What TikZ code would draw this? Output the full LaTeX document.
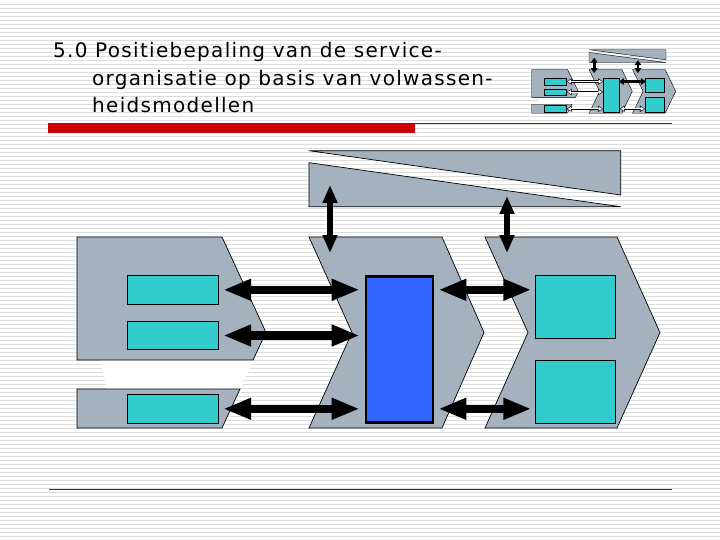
\documentclass[tikz,border=0pt]{standalone}
\usepackage{fontspec}
\newfontfamily\slidefont[LetterSpace=6.5]{DejaVu Sans}
\usetikzlibrary{arrows.meta,calc}

\definecolor{slate}{RGB}{164,177,191}
\definecolor{tealbox}{RGB}{51,204,204}
\definecolor{bluebox}{RGB}{51,102,255}
\definecolor{stripegray}{RGB}{221,221,221}
\definecolor{barred}{RGB}{204,0,0}
\definecolor{rulered}{RGB}{130,20,20}

\tikzset{
  chev/.style={draw=black, fill=slate, line width=0.7pt},
  cbox/.style={draw=black, fill=tealbox, line width=0.7pt, inner sep=0pt},
  mbox/.style={draw=black, line width=2.6pt, inner sep=0pt},
  bigarrow/.style={line width=8.5pt,
    {Triangle[length=28pt,width=20pt]}-{Triangle[length=28pt,width=20pt]}},
  vertarrow/.style={line width=6.5pt,
    {Triangle[length=18pt,width=14pt]}-{Triangle[length=18pt,width=14pt]}},
  minisolid/.style={line width=2.8pt,
    {Triangle[length=5pt,width=6.5pt]}-{Triangle[length=5pt,width=6.5pt]}},
  hollowout/.style={line width=2.4pt,
    {Triangle[length=5pt,width=6pt]}-{Triangle[length=5pt,width=6pt]}},
  hollowin/.style={white, line width=0.9pt, shorten <=0.9pt, shorten >=0.9pt,
    {Triangle[length=3.4pt,width=3.6pt]}-{Triangle[length=3.4pt,width=3.6pt]}},
  titletext/.style={font=\slidefont\fontsize{20}{23}\selectfont,
    anchor=base west, inner sep=0pt},
}

% shapes and boxes of the value chain, #1 = name prefix, #2 = middle box colour
\newcommand\valuechain[2]{%
  % top bar with wedge
  \draw[chev] (309,150.7) -- (620.7,150.7) -- (620.7,195) -- cycle;
  \draw[chev] (309,162.7) -- (620.7,206.7) -- (309,206.7) -- cycle;
  % gap in first chevron
  \fill[white] (100,360) -- (253,360) -- (240,389) -- (107,389) -- cycle;
  % chevrons
  \draw[chev] (77,237) -- (222,237) -- (266,332.5) -- (253,360) -- (77,360) -- cycle;
  \draw[chev] (77,389) -- (240,389) -- (222,428) -- (77,428) -- cycle;
  \draw[chev] (309,237) -- (442,237) -- (484,332.5) -- (442,428) -- (309,428) -- (352,332.5) -- cycle;
  \draw[chev] (485,237) -- (617,237) -- (660,332.5) -- (617,428) -- (485,428) -- (528,332.5) -- cycle;
  % boxes
  \node[cbox, minimum width=91pt, minimum height=29pt] (#1r1) at (172.8,289.8) {};
  \node[cbox, minimum width=91pt, minimum height=27.6pt] (#1r2) at (172.8,335.5) {};
  \node[cbox, minimum width=91pt, minimum height=29pt] (#1r3) at (172.8,408.8) {};
  \node[mbox, fill=#2, minimum width=67pt, minimum height=146pt] (#1m) at (399.5,349.2) {};
  \node[cbox, minimum width=79.6pt, minimum height=63pt] (#1q1) at (575.5,306.8) {};
  \node[cbox, minimum width=79.6pt, minimum height=63.3pt] (#1q2) at (575.5,391.7) {};
  % free ends of the vertical links
  \coordinate (#1up1) at (330,185);
  \coordinate (#1dn1) at (330,253);
  \coordinate (#1up2) at (507,196);
  \coordinate (#1dn2) at (507,253);
}

\begin{document}
\begin{tikzpicture}[x=1pt, y=-1pt]
  \useasboundingbox (0,0) rectangle (720,540);
  \fill[white] (0,0) rectangle (720,540);

  % background lines
  \foreach \y in {4.5,8.5,...,538.5}
    \draw[stripegray, line width=1pt] (0,\y) -- (720,\y);

  % title
  \node[titletext] (title1) at (53,58) {5.0 Positiebepaling van de service-};
  \node[titletext] (title2) at (92,85.3) {organisatie op basis van volwassen-};
  \node[titletext] (title3) at (92,112.6) {heidsmodellen};

  % rules
  \fill[barred] (48,122.7) rectangle (415,132.7);
  \draw[rulered, line width=1pt] (415,123.7) -- (672,123.7);
  \draw[rulered, line width=1pt] (49,489) -- (672,489);

  % main diagram
  \valuechain{}{bluebox}
  \draw[vertarrow] (up1) -- (dn1);
  \draw[vertarrow] (up2) -- (dn2);
  \foreach \r in {r1,r2,r3}
    \draw[bigarrow, shorten <=4.5pt, shorten >=5pt] (\r.east) -- (m.west |- \r.east);
  \draw[bigarrow, shorten <=4pt, shorten >=4pt] (m.east |- r1.east) -- (q1.west |- r1.east);
  \draw[bigarrow, shorten <=4pt, shorten >=4pt] (m.east |- r3.east) -- (q2.west |- r3.east);

  % small copy in the corner
  \begin{scope}[shift={(512.7,15.2)}, xscale=0.247, yscale=0.229,
      chev/.append style={line width=0.4pt},
      cbox/.append style={line width=0.4pt},
      mbox/.append style={line width=0.5pt},
      every node/.append style={transform shape}]
    \valuechain{s}{tealbox}
    \draw[minisolid] (sup1) -- (sdn1);
    \draw[minisolid] (sup2) -- (sdn2);
    \draw[minisolid] ([xshift=-3pt]sm.east |- sr1.east) -- ([xshift=4pt]sq1.west |- sr1.east);
    \foreach \r in {r1,r2,r3} {
      \draw[hollowout] (s\r.east) -- (sm.west |- s\r.east);
      \draw[hollowin] (s\r.east) -- (sm.west |- s\r.east);
    }
    \draw[hollowout] (sm.east |- sr3.east) -- (sq2.west |- sr3.east);
    \draw[hollowin] (sm.east |- sr3.east) -- (sq2.west |- sr3.east);
  \end{scope}
\end{tikzpicture}
\end{document}
